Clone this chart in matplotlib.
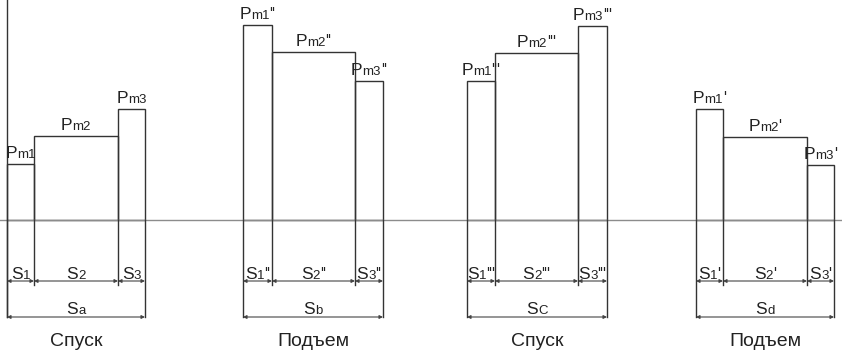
import matplotlib
matplotlib.use('Agg')
import matplotlib.pyplot as plt
from matplotlib.offsetbox import TextArea, HPacker, AnnotationBbox

plt.rcParams['font.family'] = ['Liberation Sans', 'DejaVu Sans']

# four cycles of the diagram (units: pixels of the original drawing)
phases = ['Спуск', 'Подъем', 'Спуск', 'Подъем']
x_start = [0, 236, 460, 689]
seg_w = [[27, 84, 27], [29, 83, 28], [28, 83, 29], [27, 84, 27]]
p_h = [[56, 84, 111], [195, 168, 139], [139, 167, 194], [111, 83, 55]]
primes = ['', "''", "'''", "'"]
total_sub = ['a', 'b', 'C', 'd']

line_c = '#333333'
axis_c = '#8c8c8c'
text_c = '#222222'

fig = plt.figure(figsize=(8.42, 3.51), dpi=100)
ax = fig.add_axes([0, 0, 1, 1])
ax.set_xlim(-7, 835)
ax.set_ylim(-131, 220)
ax.axis('off')


def rich(x, y, base, sub, prime, size=12.5):
    parts = [TextArea(base, textprops=dict(size=size, color=text_c)),
             TextArea(sub, textprops=dict(size=size - 3, color=text_c))]
    if prime:
        parts.append(TextArea(prime, textprops=dict(size=size - 1, color=text_c)))
    box = HPacker(children=parts, align='baseline', pad=0, sep=0)
    ab = AnnotationBbox(box, (x, y), xycoords='data', box_alignment=(0.5, 0),
                        frameon=False, pad=0)
    ax.add_artist(ab)


def dim_arrow(x0, x1, y):
    ax.annotate('', xy=(x1, y), xytext=(x0, y),
                arrowprops=dict(arrowstyle='<|-|>', mutation_scale=5,
                                lw=0.8, color='#444444', shrinkA=0, shrinkB=0))


# axes
ax.axhline(0, color=axis_c, lw=1)
ax.plot([0, 0], [220, -97], color=line_c, lw=1)

for k in range(4):
    edges = [x_start[k]]
    for w in seg_w[k]:
        edges.append(edges[-1] + w)
    lefts = edges[:-1]
    ax.bar(lefts, p_h[k], width=seg_w[k], align='edge', fill=False,
           edgecolor=line_c, lw=1)
    # extension lines below the baseline
    for i, e in enumerate(edges):
        bottom = -97 if i in (0, len(edges) - 1) else -65
        ax.plot([e, e], [0, bottom], color=line_c, lw=1)
    # labels and dimension arrows
    for i in range(3):
        cx = (edges[i] + edges[i + 1]) / 2
        rich(cx, p_h[k][i] + 3, 'P', 'm%d' % (i + 1), primes[k])
        dim_arrow(edges[i], edges[i + 1], -61)
        rich(cx, -62, 'S', str(i + 1), primes[k])
    mid = (edges[0] + edges[-1]) / 2
    dim_arrow(edges[0], edges[-1], -97)
    rich(mid, -97, 'S', total_sub[k], '')
    ax.text(mid, -122, phases[k], ha='center', va='center', size=14,
            color=text_c)

fig.savefig('out.png', dpi=100)
